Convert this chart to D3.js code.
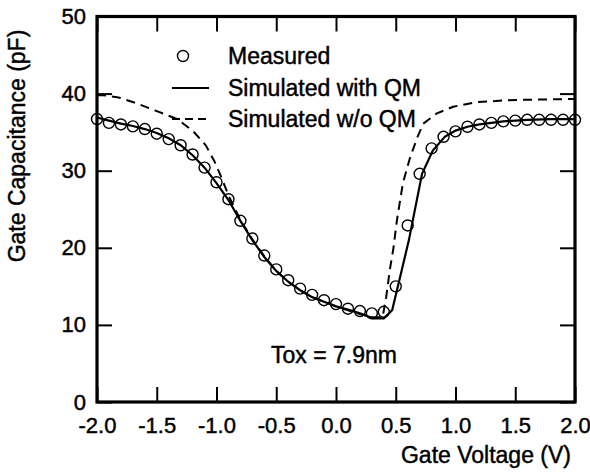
<!DOCTYPE html>
<html>
<head>
<meta charset="utf-8">
<script src="https://cdn.jsdelivr.net/npm/d3@7"></script>
<style>
  html, body { margin: 0; padding: 0; background: #fff; }
  svg { display: block; }
  text { font-family: "Liberation Sans", Arial, Helvetica, sans-serif; fill: #000; stroke: #000; stroke-width: 0.45px; }
</style>
</head>
<body>
<svg id="chart" width="590" height="472"></svg>
<script>
// ---- Data ----
const measuredV = [-2.0,-1.9,-1.8,-1.7,-1.6,-1.5,-1.4,-1.3,-1.2,-1.1,-1.0,-0.9,-0.8,-0.7,-0.6,-0.5,-0.4,-0.3,-0.2,-0.1,0.0,0.1,0.2,0.3,0.4,0.5,0.6,0.7,0.8,0.9,1.0,1.1,1.2,1.3,1.4,1.5,1.6,1.7,1.8,1.9,2.0];
const measuredC = [36.7,36.2,36.0,35.75,35.4,34.8,34.1,33.3,32.1,30.4,28.5,26.3,23.5,21.2,19.0,17.2,15.8,14.7,13.9,13.2,12.7,12.1,11.8,11.5,11.7,15.0,22.9,29.6,32.9,34.4,35.1,35.7,36.0,36.2,36.4,36.5,36.6,36.6,36.6,36.6,36.6];

const qmV = [-2.0,-1.9,-1.8,-1.7,-1.6,-1.5,-1.4,-1.3,-1.2,-1.1,-1.0,-0.9,-0.8,-0.7,-0.6,-0.5,-0.4,-0.3,-0.2,-0.1,0.0,0.1,0.2,0.31,0.40,0.47,0.55,0.61,0.72,0.81,0.91,1.0,1.1,1.2,1.4,1.6,1.8,2.0];
const qmC = [36.9,36.5,36.1,35.8,35.4,34.9,34.2,33.3,32.0,30.4,28.4,26.2,23.5,21.0,18.8,17.0,15.6,14.5,13.6,13.0,12.4,12.0,11.5,10.85,10.85,11.9,17.1,21.0,29.6,32.6,34.4,35.2,35.7,36.0,36.4,36.6,36.7,36.7];

const noQmV = [-2.0,-1.95,-1.82,-1.68,-1.51,-1.33,-1.2,-1.09,-1.02,-0.95,-0.9,-0.8,-0.7,-0.6,-0.5,-0.4,-0.3,-0.2,-0.1,0.0,0.1,0.2,0.3,0.39,0.42,0.45,0.48,0.51,0.56,0.62,0.68,0.73,0.84,0.98,1.18,1.4,1.57,2.0];
const noQmC = [39.8,39.8,39.5,38.8,37.8,36.7,35.2,33.3,31.3,28.8,26.8,23.6,21.1,18.9,17.0,15.6,14.5,13.6,13.0,12.4,11.9,11.4,11.0,11.0,13.6,17.1,19.9,23.6,28.4,31.7,34.3,36.1,37.4,38.3,38.9,39.1,39.2,39.3];

const xTicks = [-2.0,-1.5,-1.0,-0.5,0.0,0.5,1.0,1.5,2.0];
const xTickLabels = ["-2.0","-1.5","-1.0","-0.5","0.0","0.5","1.0","1.5","2.0"];
const yTicks = [0,10,20,30,40,50];
const yTickLabels = ["0","10","20","30","40","50"];
const legendLabels = ["Measured","Simulated with QM","Simulated w/o QM"];
const xTitle = "Gate Voltage (V)";
const yTitle = "Gate Capacitance (pF)";
const annotation = "Tox = 7.9nm";

// ---- Layout ----
const L = 97, R = 575, T = 16.5, B = 402;
const svg = d3.select("#chart");
const x = d3.scaleLinear().domain([-2, 2]).range([L, R]);
const y = d3.scaleLinear().domain([0, 50]).range([B, T]);

const FS = 23;
const dash = "9,6";

// ---- Curves ----
const line = d3.line().x(d => x(d[0])).y(d => y(d[1])).curve(d3.curveLinear);
const qmData = qmV.map((v, i) => [v, qmC[i]]);
const noQmData = noQmV.map((v, i) => [v, noQmC[i]]);
const measData = measuredV.map((v, i) => [v, measuredC[i]]);

const plot = svg.append("g");
plot.append("path").datum(noQmData).attr("d", line)
  .attr("fill", "none").attr("stroke", "#000").attr("stroke-width", 2)
  .attr("stroke-dasharray", dash);
plot.append("path").datum(qmData).attr("d", line)
  .attr("fill", "none").attr("stroke", "#000").attr("stroke-width", 2.2);
plot.selectAll("circle.m").data(measData).join("circle")
  .attr("class", "m")
  .attr("cx", d => x(d[0])).attr("cy", d => y(d[1])).attr("r", 5.5)
  .attr("fill", "none").attr("stroke", "#000").attr("stroke-width", 1.4);

// ---- Axes (ticks inward, all four sides) ----
const tickLen = 15;
const axB = svg.append("g").attr("transform", `translate(0,${B})`)
  .call(d3.axisBottom(x).tickValues(xTicks).tickSize(-tickLen)
    .tickFormat((d, i) => xTickLabels[i]));
const axT = svg.append("g").attr("transform", `translate(0,${T})`)
  .call(d3.axisTop(x).tickValues(xTicks).tickSize(-tickLen).tickFormat(""));
const axL = svg.append("g").attr("transform", `translate(${L},0)`)
  .call(d3.axisLeft(y).tickValues(yTicks).tickSize(-tickLen).tickPadding(11)
    .tickFormat((d, i) => yTickLabels[i]));
const axR = svg.append("g").attr("transform", `translate(${R},0)`)
  .call(d3.axisRight(y).tickValues(yTicks).tickSize(-tickLen).tickFormat(""));

[axB, axT, axL, axR].forEach(a => {
  a.select(".domain").remove();
  a.selectAll(".tick line").attr("stroke", "#000").attr("stroke-width", 2);
  a.selectAll(".tick text").attr("font-size", 22).attr("font-family", "Liberation Sans, Arial, sans-serif")
    .attr("fill", "#000");
});
axB.selectAll(".tick text").attr("dy", "0.71em").attr("y", 15);

// frame
svg.append("rect").attr("x", L).attr("y", T).attr("width", R - L).attr("height", B - T)
  .attr("fill", "none").attr("stroke", "#000").attr("stroke-width", 3.2);

// ---- Titles ----
svg.append("text").attr("x", 571).attr("y", 463).attr("text-anchor", "end")
  .attr("font-size", FS).text(xTitle);
svg.append("text").attr("transform", `translate(25,146) rotate(-90)`).attr("text-anchor", "middle")
  .attr("font-size", FS).text(yTitle);

// ---- Annotation ----
svg.append("text").attr("x", 271).attr("y", 363).attr("font-size", FS).text(annotation);

// ---- Legend ----
const lg = svg.append("g");
const lgX0 = 172, lgX1 = 209, lgTextX = 228;
const lgY = [56, 88, 119];
lg.append("circle").attr("cx", 183).attr("cy", lgY[0]).attr("r", 5.5)
  .attr("fill", "none").attr("stroke", "#000").attr("stroke-width", 1.4);
lg.append("line").attr("x1", lgX0).attr("x2", lgX1).attr("y1", lgY[1]).attr("y2", lgY[1])
  .attr("stroke", "#000").attr("stroke-width", 2.2);
lg.append("line").attr("x1", lgX0).attr("x2", lgX1).attr("y1", lgY[2]).attr("y2", lgY[2])
  .attr("stroke", "#000").attr("stroke-width", 2).attr("stroke-dasharray", "8,5");
legendLabels.forEach((t, i) => {
  lg.append("text").attr("x", lgTextX).attr("y", lgY[i] + 8).attr("font-size", FS).text(t);
});
</script>
</body>
</html>
